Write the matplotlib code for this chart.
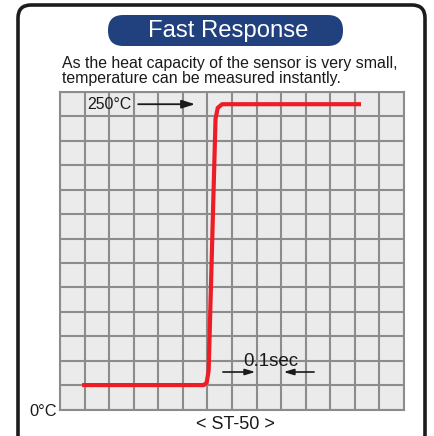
import matplotlib
matplotlib.use("Agg")
import matplotlib.pyplot as plt
from matplotlib.patches import FancyBboxPatch
import numpy as np

plt.rcParams['font.family'] = ['Liberation Sans', 'DejaVu Sans']

# Data (time in seconds, temperature in °C)
time_s = [0.09, 0.585, 0.597, 0.605, 0.633, 0.642, 0.66, 1.225]
temp_c = [20, 20, 22, 32, 238, 247, 250, 250]

title = "Fast Response"
subtitle = "As the heat capacity of the sensor is very small,\ntemperature can be measured instantly."
model = "< ST-50 >"
x_grid = np.arange(0, 1.41, 0.1)
y_grid = np.arange(0, 261, 20)

W, H = 435, 436
fig = plt.figure(figsize=(W / 100, H / 100), dpi=100)
fig.patch.set_facecolor('white')

def fx(px):
    return px / W

def fy(py):
    return 1 - py / H

# outer frame
frame = FancyBboxPatch((fx(18), fy(448)), fx(425) - fx(18), fy(5) - fy(448),
                       boxstyle="round,pad=0,rounding_size=0.03",
                       transform=fig.transFigure, fill=False,
                       edgecolor='#1c1c1c', linewidth=2.6, clip_on=False)
fig.patches.append(frame)

# title pill
pill = FancyBboxPatch((fx(108), fy(46)), fx(343) - fx(108), fy(15) - fy(46),
                      boxstyle="round,pad=0,rounding_size=0.035",
                      transform=fig.transFigure, facecolor='#21407e',
                      edgecolor='none')
fig.patches.append(pill)
fig.text(fx(228), fy(31), title, color='white', fontsize=17.2,
         ha='center', va='center')
fig.text(fx(62), fy(71), subtitle, color='#1a1a1a', fontsize=11.4,
         ha='left', va='center', linespacing=1.0)

ax = fig.add_axes([fx(60), fy(409.5), fx(404) - fx(60), fy(92) - fy(409.5)])
ax.set_facecolor('#ebebeb')
ax.set_xlim(0, 1.4)
ax.set_ylim(0, 260)
ax.set_xticks(x_grid)
ax.set_yticks(y_grid)
ax.grid(True, color='#8c8c8c', linewidth=1.5)
ax.tick_params(length=0, labelbottom=False, labelleft=False)
for s in ax.spines.values():
    s.set_color('#8c8c8c')
    s.set_linewidth(1.5)
ax.set_axisbelow(True)

ax.plot(time_s, temp_c, color='#ee1c25', linewidth=3.0, solid_capstyle='butt',
        solid_joinstyle='round', zorder=5)

# annotations
ax.text(0.293, 250, "250°C", fontsize=11.4, ha='right', va='center', color='#1a1a1a')
ax.annotate("", xy=(0.55, 250), xytext=(0.318, 250),
            arrowprops=dict(arrowstyle='-|>,head_length=0.8,head_width=0.25',
                            color='#1a1a1a', lw=1.3, shrinkA=0, shrinkB=0))
ax.text(0.857, 39, "0.1sec", fontsize=13.5, ha='center', va='center', color='#1a1a1a')
ax.annotate("", xy=(0.795, 30.7), xytext=(0.663, 30.7),
            arrowprops=dict(arrowstyle='-|>,head_length=0.6,head_width=0.18',
                            color='#1a1a1a', lw=1.2, shrinkA=0, shrinkB=0))
ax.annotate("", xy=(0.91, 30.7), xytext=(1.034, 30.7),
            arrowprops=dict(arrowstyle='-|>,head_length=0.6,head_width=0.18',
                            color='#1a1a1a', lw=1.2, shrinkA=0, shrinkB=0))

fig.text(fx(57), fy(411), "0°C", fontsize=11.8, ha='right', va='center', color='#1a1a1a')
fig.text(fx(235), fy(424), model, fontsize=13, ha='center', va='center', color='#1a1a1a')

fig.savefig("out.png", dpi=100)
